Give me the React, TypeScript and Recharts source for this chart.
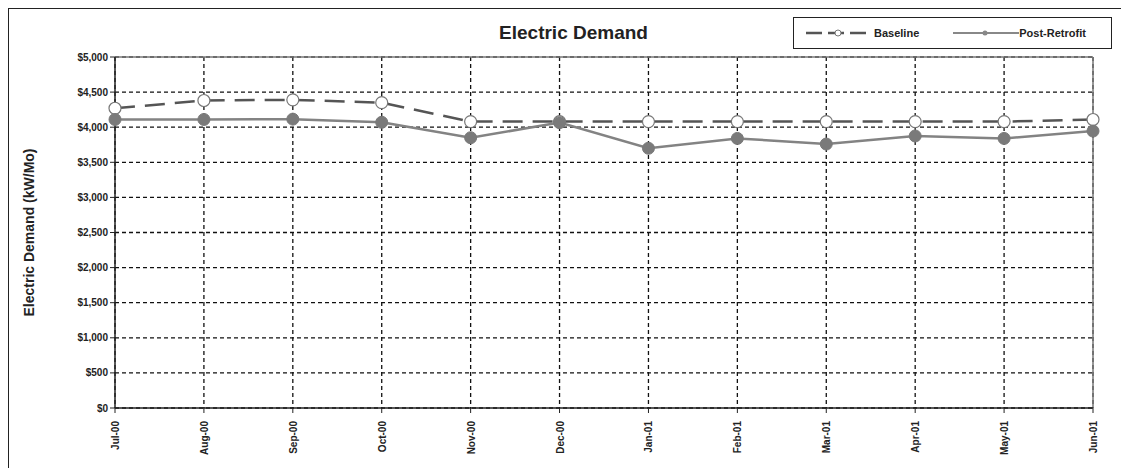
import React from 'react';
import { LineChart, Line, XAxis, YAxis, CartesianGrid, ReferenceLine } from 'recharts';

const months = ['Jul-00', 'Aug-00', 'Sep-00', 'Oct-00', 'Nov-00', 'Dec-00', 'Jan-01', 'Feb-01', 'Mar-01', 'Apr-01', 'May-01', 'Jun-01'];
const baseline = [4270, 4380, 4390, 4350, 4080, 4080, 4080, 4080, 4080, 4080, 4080, 4110];
const postRetrofit = [4110, 4110, 4115, 4070, 3850, 4065, 3700, 3840, 3760, 3875, 3840, 3945];
const yTicks = [0, 500, 1000, 1500, 2000, 2500, 3000, 3500, 4000, 4500, 5000];

const data = months.map((m, i) => ({ month: m, baseline: baseline[i], post: postRetrofit[i] }));

const FONT = '"Liberation Sans", Arial, sans-serif';

const fmtMoney = (v: number) => '$' + v.toLocaleString('en-US');

// rotated month labels, reading bottom-to-top
const MonthTick = (props: any) => {
    const { x, y, payload } = props;
    return (
        <text
            x={0}
            y={0}
            transform={`translate(${x + 4},${y + 6}) rotate(-90)`}
            textAnchor="end"
            fontSize={10}
            fontWeight="bold"
            fontFamily={FONT}
            fill="#222"
        >
            {payload.value}
        </text>
    );
};

const LegendBox = () => (
    <div style={{
        position: 'absolute', left: 784, top: 8,
        width: 317, height: 30, border: '1.5px solid #222', background: '#fff',
        display: 'flex', alignItems: 'center', fontFamily: FONT, fontSize: 11, fontWeight: 'bold', color: '#222'
    }}>
        <svg width={60} height={12} style={{ marginLeft: 12 }}>
            <line x1={0} y1={6} x2={60} y2={6} stroke="#555" strokeWidth={2.5} strokeDasharray="16 6" />
            <circle cx={32} cy={6} r={3} fill="#fff" stroke="#777" strokeWidth={1} />
        </svg>
        <span style={{ marginLeft: 8 }}>Baseline</span>
        <svg width={66} height={12} style={{ marginLeft: 34 }}>
            <line x1={0} y1={6} x2={66} y2={6} stroke="#888" strokeWidth={2} />
            <circle cx={32} cy={6} r={2.5} fill="#888" />
        </svg>
        <span>Post-Retrofit</span>
    </div>
);

export default function App() {
    return (
        <div style={{ position: 'relative', width: 1115, height: 470, border: '1px solid #222', background: '#fff' }}>
            <div style={{
                position: 'absolute', left: 0, width: 1129, top: 13, textAlign: 'center',
                fontFamily: FONT, fontWeight: 'bold', fontSize: 19, color: '#222'
            }}>
                Electric Demand
            </div>
            <LineChart width={1115} height={470} data={data} margin={{ top: 48, right: 31, left: 0, bottom: 0 }}>
                <CartesianGrid stroke="#111" strokeDasharray="4 3" strokeWidth={1.3} />
                <XAxis
                    dataKey="month"
                    height={71}
                    tick={<MonthTick />}
                    tickSize={5}
                    axisLine={{ stroke: '#222', strokeWidth: 1.5 }}
                    tickLine={{ stroke: '#222' }}
                    interval={0}
                />
                <YAxis
                    width={106}
                    domain={[0, 5000]}
                    ticks={yTicks}
                    tickFormatter={fmtMoney}
                    tick={{ fontSize: 10, fontWeight: 'bold', fill: '#222', fontFamily: FONT }}
                    tickSize={5}
                    axisLine={{ stroke: '#222', strokeWidth: 1.5 }}
                    tickLine={{ stroke: '#222' }}
                    label={{
                        value: 'Electric Demand (kW/Mo)', angle: -90, position: 'insideLeft', offset: 20,
                        style: { fontSize: 14, fontWeight: 'bold', fill: '#222', fontFamily: FONT, textAnchor: 'middle' }
                    }}
                />
                <ReferenceLine y={5000} stroke="#777" strokeWidth={1.5} />
                <ReferenceLine x="Jun-01" stroke="#777" strokeWidth={1.5} />
                <Line
                    dataKey="baseline"
                    name="Baseline"
                    stroke="#555"
                    strokeWidth={2.5}
                    strokeDasharray="20 10"
                    dot={{ r: 6, fill: '#fff', stroke: '#777', strokeWidth: 1.2, strokeDasharray: '' }}
                    isAnimationActive={false}
                    type="linear"
                />
                <Line
                    dataKey="post"
                    name="Post-Retrofit"
                    stroke="#838383"
                    strokeWidth={2.5}
                    dot={{ r: 6, fill: '#7a7a7a', stroke: '#7a7a7a', strokeWidth: 1 }}
                    isAnimationActive={false}
                    type="linear"
                />
            </LineChart>
            <LegendBox />
        </div>
    );
}
